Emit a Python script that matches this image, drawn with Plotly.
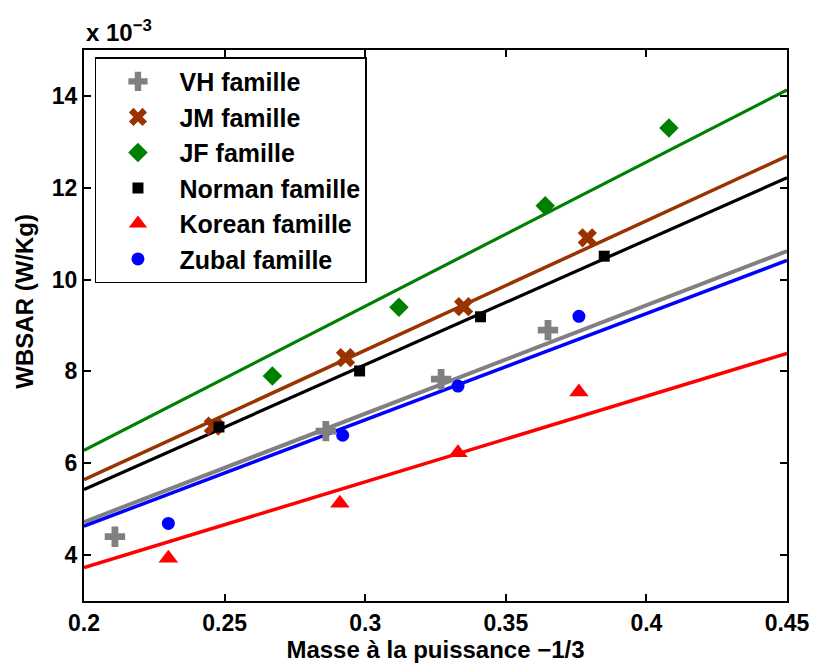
import plotly.graph_objects as go

# ---- data (WBSAR in units of 1e-3 W/Kg) ----
names = ["VH famille", "JM famille", "JF famille", "Norman famille", "Korean famille", "Zubal famille"]
vh_x = [0.211, 0.286, 0.327, 0.365]
vh_y = [4.40, 6.70, 7.83, 8.90]
jm_x = [0.246, 0.293, 0.335, 0.379]
jm_y = [6.81, 8.30, 9.41, 10.91]
jf_x = [0.267, 0.312, 0.364, 0.408]
jf_y = [7.90, 9.40, 11.61, 13.30]
norman_x = [0.248, 0.298, 0.341, 0.385]
norman_y = [6.79, 8.01, 9.19, 10.51]
korean_x = [0.230, 0.291, 0.333, 0.376]
korean_y = [3.93, 5.13, 6.23, 7.55]
zubal_x = [0.230, 0.292, 0.333, 0.376]
zubal_y = [4.69, 6.61, 7.68, 9.20]
# slopes of the fitted lines (through origin)
fit_slope = [23.6, 28.2, 31.4, 27.15, 18.65, 23.15]
fit_x = [0.2, 0.45]

x_ticks = [0.2, 0.25, 0.3, 0.35, 0.4, 0.45]
x_ticklabels = ["0.2", "0.25", "0.3", "0.35", "0.4", "0.45"]
y_ticks = [4, 6, 8, 10, 12, 14]
y_ticklabels = ["4", "6", "8", "10", "12", "14"]

xs = [vh_x, jm_x, jf_x, norman_x, korean_x, zubal_x]
ys = [vh_y, jm_y, jf_y, norman_y, korean_y, zubal_y]
colors = ["#808080", "#993300", "#008000", "#000000", "#FF0000", "#0000FF"]
symbols = ["cross", "x", "diamond", "square", "triangle-up", "circle"]
sizes = [17, 17, 15, 11, 17, 13]
line_widths = [4, 3.5, 3.2, 3.2, 3.5, 3.5]

FONT = "Liberation Sans, Arial, sans-serif"

fig = go.Figure()
for i in range(6):
    k = fit_slope[i]
    fig.add_trace(go.Scatter(
        x=fit_x, y=[k * v for v in fit_x], mode="lines",
        line=dict(color=colors[i], width=line_widths[i]),
        showlegend=False, hoverinfo="skip"))
for i in range(6):
    fig.add_trace(go.Scatter(
        x=xs[i], y=ys[i], mode="markers", name=names[i],
        legendgroup=names[i],
        marker=dict(symbol=symbols[i], size=sizes[i], color=colors[i],
                    line=dict(width=0))))

axis_common = dict(
    showline=True, linecolor="black", linewidth=2, mirror="allticks",
    ticks="inside", ticklen=7, tickwidth=1.5, tickcolor="black",
    showgrid=False, zeroline=False, automargin=False,
    tickfont=dict(family=FONT, size=23, color="black", weight="bold"),
)

fig.update_xaxes(range=[0.2, 0.45], tickvals=x_ticks, ticktext=x_ticklabels,
                 title=dict(text="<b>Masse à la puissance −1/3</b>",
                            font=dict(family=FONT, size=24, color="black"),
                            standoff=2),
                 **axis_common)
fig.update_yaxes(range=[3, 15], tickvals=y_ticks, ticktext=y_ticklabels,
                 **axis_common)

fig.add_annotation(text="<b>WBSAR (W/Kg)</b>", textangle=-90,
                   xref="paper", yref="paper", x=-0.084, y=0.545,
                   xanchor="center", yanchor="middle", showarrow=False,
                   font=dict(family=FONT, size=24, color="black"))
fig.add_annotation(text="<b>x 10<sup>−3</sup></b>",
                   xref="paper", yref="paper", x=0.0, y=1.0,
                   xanchor="left", yanchor="bottom", yshift=2, showarrow=False,
                   font=dict(family=FONT, size=24, color="black"))

fig.update_layout(
    width=817, height=671,
    margin=dict(l=84, r=30, t=50, b=70),
    paper_bgcolor="white", plot_bgcolor="white",
    legend=dict(x=0.0156, y=0.987, xanchor="left", yanchor="top",
                bgcolor="white", bordercolor="black", borderwidth=1.5,
                font=dict(family=FONT, size=25, color="black", weight="bold"),
                itemwidth=73, tracegroupgap=0),
    showlegend=True,
)

fig.write_html("out.html", config={"displayModeBar": False},
               post_script="document.body.style.margin='0';document.body.style.padding='0';")
